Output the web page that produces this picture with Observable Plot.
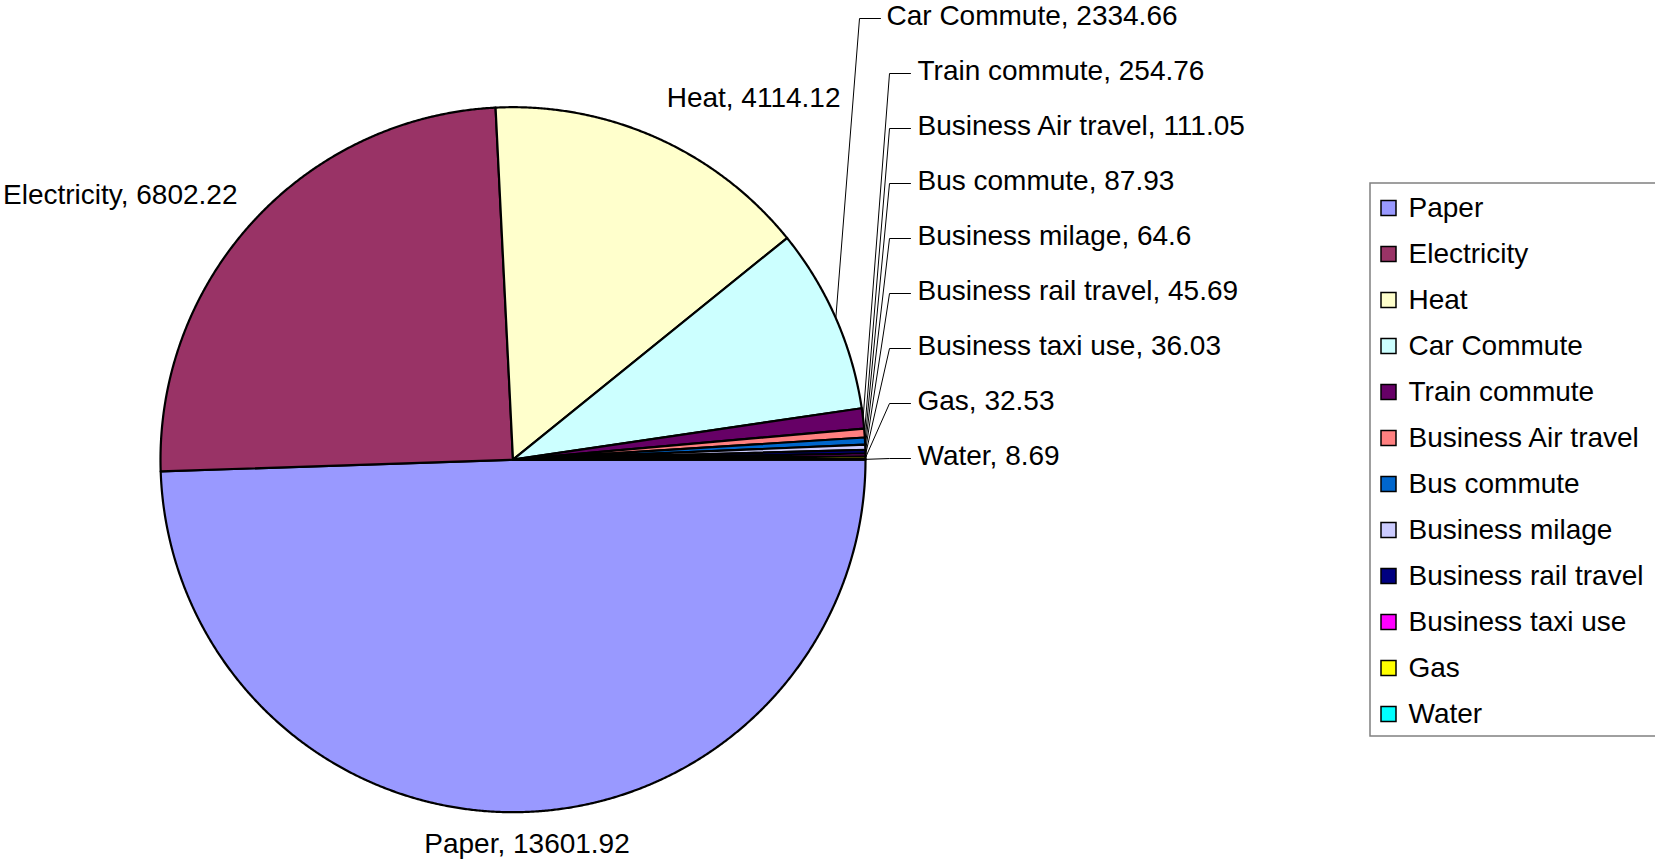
<!DOCTYPE html>
<html>
<head>
<meta charset="utf-8">
<script src="https://cdn.jsdelivr.net/npm/d3@7"></script>
<script src="https://cdn.jsdelivr.net/npm/@observablehq/plot@0.6"></script>
<style>
  html, body { margin: 0; padding: 0; background: #ffffff; overflow: hidden; }
  #chart svg { display: block; }
</style>
</head>
<body>
<div id="chart"></div>
<script>
// ---- data ----
const categories = ["Paper", "Electricity", "Heat", "Car Commute", "Train commute",
  "Business Air travel", "Bus commute", "Business milage", "Business rail travel",
  "Business taxi use", "Gas", "Water"];
const values = [13601.92, 6802.22, 4114.12, 2334.66, 254.76, 111.05, 87.93, 64.6, 45.69, 36.03, 32.53, 8.69];
const colors = ["#9999FF", "#993366", "#FFFFCC", "#CCFFFF", "#660066", "#FF8080",
  "#0066CC", "#CCCCFF", "#000080", "#FF00FF", "#FFFF00", "#00FFFF"];

// ---- layout ----
const W = 1655, H = 866;
const cx = 512.5, cy = 459.2, R = 352.5;
const font = "'Liberation Sans', Arial, sans-serif";

const total = d3.sum(values);
let acc = 0;
const slices = categories.map((name, i) => {
  const a0 = acc / total * 2 * Math.PI;
  acc += values[i];
  const a1 = acc / total * 2 * Math.PI;
  return {name, value: values[i], a0, a1, mid: (a0 + a1) / 2, i};
});

// slice polygons (angle clockwise on screen from 3 o'clock)
const polyPts = [];
for (const s of slices) {
  polyPts.push({name: s.name, x: cx, y: cy});
  const n = Math.max(2, Math.ceil((s.a1 - s.a0) / (Math.PI / 720)));
  for (let k = 0; k <= n; k++) {
    const a = s.a0 + (s.a1 - s.a0) * k / n;
    polyPts.push({name: s.name, x: cx + R * Math.cos(a), y: cy + R * Math.sin(a)});
  }
  polyPts.push({name: s.name, x: cx, y: cy});
}

// labels of the three large slices (no leader lines)
const lbl = name => `${name}, ${values[categories.indexOf(name)]}`;
const middleLabels = [{text: lbl("Paper"), x: 526.5, y: 844}];
const endLabels = [
  {text: lbl("Electricity"), x: 237, y: 195},
  {text: lbl("Heat"), x: 840, y: 98}
];

// labels of the small slices, stacked on the right with leader lines
const small = slices.slice(3);
const smallLabels = small.map((s, j) => ({
  text: `${s.name}, ${s.value}`, x: j === 0 ? 886 : 917, y: 15.5 + 55 * j
}));
const leaderPts = [];
small.forEach((s, j) => {
  const y = smallLabels[j].y + 2.5;
  const xEnd = j === 0 ? 880 : 910;
  const xElb = j === 0 ? 859 : 889;
  leaderPts.push({name: s.name, x: xEnd, y});
  leaderPts.push({name: s.name, x: xElb, y});
  leaderPts.push({name: s.name, x: cx + R * Math.cos(s.mid), y: cy + R * Math.sin(s.mid)});
});

// legend
const legendItems = categories.map((name, i) => ({name, y: 208 + 46 * i}));

const chart = Plot.plot({
  width: W, height: H, margin: 0,
  x: {domain: [0, W], range: [0, W], axis: null},
  y: {domain: [0, H], range: [0, H], axis: null},
  color: {domain: categories, range: colors},
  style: {fontFamily: font, background: "#ffffff", overflow: "visible"},
  marks: [
    Plot.line(polyPts, {x: "x", y: "y", z: "name", fill: "name", stroke: "#000000",
      strokeWidth: 2.2, strokeLinejoin: "round", curve: "linear"}),
    Plot.line(leaderPts, {x: "x", y: "y", z: "name", stroke: "#000000", strokeWidth: 1}),
    Plot.text(middleLabels, {x: "x", y: "y", text: "text", textAnchor: "middle",
      fontSize: 28, fill: "#000000"}),
    Plot.text(endLabels, {x: "x", y: "y", text: "text", textAnchor: "end",
      fontSize: 28, fill: "#000000"}),
    Plot.text(smallLabels, {x: "x", y: "y", text: "text", textAnchor: "start",
      fontSize: 28, fill: "#000000"}),
    // legend box
    Plot.rect([0], {x1: () => 1370, x2: () => 1700, y1: () => 183, y2: () => 736,
      fill: "#ffffff", stroke: "#808080", strokeWidth: 1.5}),
    Plot.rect(legendItems, {x1: () => 1381, x2: () => 1396, y1: d => d.y - 7.5, y2: d => d.y + 7.5,
      fill: "name", stroke: "#000000", strokeWidth: 1.5}),
    Plot.text(legendItems, {x: () => 1408, y: "y", text: "name", textAnchor: "start",
      fontSize: 28, fill: "#000000"})
  ]
});
document.getElementById("chart").appendChild(chart);
</script>
</body>
</html>
